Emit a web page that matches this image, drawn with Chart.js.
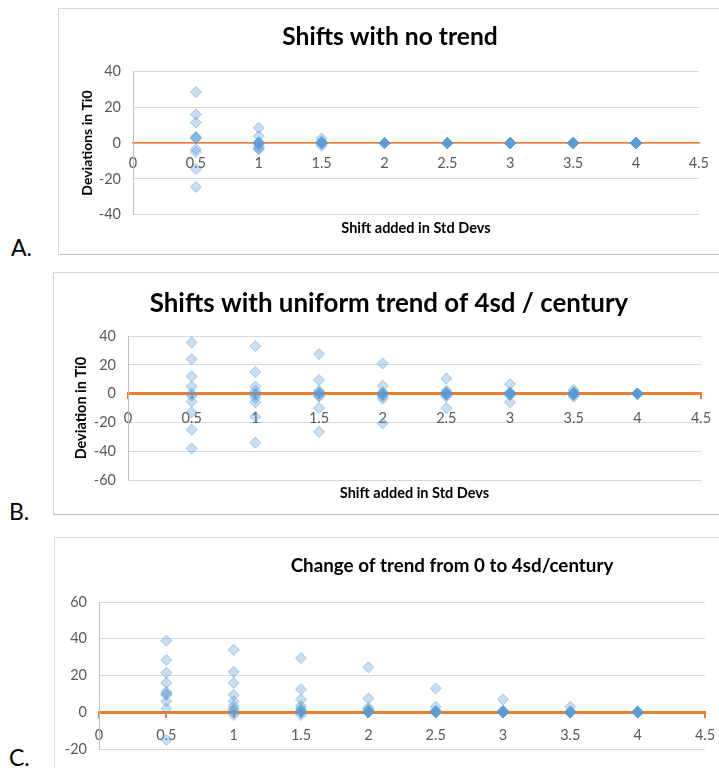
<!DOCTYPE html>
<html>
<head>
<meta charset="utf-8">
<script src="https://cdn.jsdelivr.net/npm/chart.js@4.4.1/dist/chart.umd.min.js"></script>
<style>
  html, body { margin: 0; padding: 0; background: #fff; }
  body { width: 719px; height: 768px; overflow: hidden; position: relative;
         font-family: Lato, 'Open Sans', sans-serif; }
  .box { position: absolute; border: 1px solid #D9D9D9; background: #fff; }
  .box canvas { position: absolute; left: 0; top: 0; }
  .lab { position: absolute; font-size: 23px; color: #000; }
</style>
</head>
<body>
<div class="lab" style="left:11px; top:233px;">A.</div>
<div class="lab" style="left:9px; top:497px;">B.</div>
<div class="lab" style="left:9px; top:743px;">C.</div>

<div class="box" style="left:58px; top:8px; width:662px; height:245px; border-bottom-color:#BFBFBF;"><canvas id="cA" width="662" height="245"></canvas></div>
<div class="box" style="left:53px; top:272px; width:670px; height:241px; border-bottom-color:#BFBFBF;"><canvas id="cB" width="670" height="241"></canvas></div>
<div class="box" style="left:54px; top:537px; width:794px; height:245px;"><canvas id="cC" width="794" height="245"></canvas></div>

<script>
// ---- data ----
const shifts = [0.5, 1, 1.5, 2, 2.5, 3, 3.5, 4];
const xTicksMin = 0, xTicksMax = 4.5, xTickStep = 0.5;

// Panel A: Shifts with no trend (10 runs per shift)
const devA_05 = [28.5, 16, 11.5, 3.5, 2.5, -3.5, -5, -14.5, -24.5, 3];
const devA_10 = [8.5, 4, 0.5, 0, 0, -0.5, -2, -3, -3.5, 0];
const devA_15 = [2.5, 1, 0.5, 0, 0, 0, -0.5, -1.5, 0, 0];
const devA_20 = [0, 0, 0, 0, 0, 0, 0, 0, 0, 0];
const devA_25 = [0, 0, 0, 0, 0, 0, 0, 0, 0, 0];
const devA_30 = [0, 0, 0, 0, 0, 0, 0, 0, 0, 0];
const devA_35 = [0, 0, 0, 0, 0, 0, 0, 0, 0, 0];
const devA_40 = [0, 0, 0, 0, 0, 0, 0, 0, 0, 0];

// Panel B: Shifts with uniform trend of 4sd / century
const devB_05 = [35.5, 24, 12, 5, 0, -1.5, -5.5, -13, -25, -38];
const devB_10 = [33, 15, 5, 2, 0, -1, -3, -6, -16, -34];
const devB_15 = [27.5, 9.5, 2, 1, 0, 0, -1.5, -2, -10, -26.5];
const devB_20 = [21, 5.5, 1, 0, 0, 0, -1, -2, -3.5, -20.5];
const devB_25 = [10.5, 2, 1, 0, 0, 0, 0, -1, -2, -10];
const devB_30 = [6.5, 1, 0.5, 0, 0, 0, 0, -0.5, -1, -6];
const devB_35 = [2.5, 1, 0.5, 0, 0, 0, 0, -0.5, -1, -2];
const devB_40 = [0, 0, 0, 0, 0, 0, 0, 0, 0, 0];

// Panel C: Change of trend from 0 to 4sd/century
const devC_05 = [39, 28.5, 21.5, 16, 11, 10, 9.5, 6, 2, -15];
const devC_10 = [34, 22, 16, 9.5, 6, 3.5, 2, 1, 0, -1.5];
const devC_15 = [29.5, 12.5, 7, 3.5, 2, 1, 0.5, 0, 0, -1.5];
const devC_20 = [24.5, 7.5, 2.5, 1.5, 1, 0.5, 0, 0, 0, 0];
const devC_25 = [13, 3, 1, 0.5, 0, 0, 0, 0, 0, 0];
const devC_30 = [7, 1, 0.5, 0, 0, 0, 0, 0, 0, 0];
const devC_35 = [3, 0.5, 0, 0, 0, 0, 0, 0, 0, 0];
const devC_40 = [0.5, 0, 0, 0, 0, 0, 0, 0, 0, 0];

const devA = [devA_05, devA_10, devA_15, devA_20, devA_25, devA_30, devA_35, devA_40];
const devB = [devB_05, devB_10, devB_15, devB_20, devB_25, devB_30, devB_35, devB_40];
const devC = [devC_05, devC_10, devC_15, devC_20, devC_25, devC_30, devC_35, devC_40];

const titleA = 'Shifts with no trend';
const titleB = 'Shifts with uniform trend of 4sd / century';
const titleC = 'Change of trend from 0 to 4sd/century';
const yTitleA = 'Deviations in Ti0';
const yTitleB = 'Deviation in Ti0';
const xTitle = 'Shift added in Std Devs';

// ---- rendering ----
const FONT = "Lato, 'Open Sans', sans-serif";
Chart.defaults.font.family = FONT;
const ORANGE = '#ED7D31';

function toPoints(dev) {
  const pts = [];
  shifts.forEach((s, i) => dev[i].forEach(v => pts.push({x: s, y: v})));
  return pts;
}

function makeChart(id, cfg) {
  const plugins = {
    legend: {display: false},
    tooltip: {enabled: false},
    title: {
      display: true, text: cfg.title, color: '#000',
      font: {size: cfg.titleSize, weight: 'bold', family: FONT},
      padding: cfg.titlePad
    }
  };
  if (cfg.xTitle) {
    plugins.subtitle = {
      display: true, position: 'bottom', fullSize: false, text: cfg.xTitle, color: '#000',
      font: {size: 14.5, weight: 'bold', family: FONT},
      padding: cfg.xTitlePad
    };
  }
  return new Chart(document.getElementById(id), {
    type: 'scatter',
    data: {
      datasets: [{
        data: toPoints(cfg.dev),
        pointStyle: 'rectRot',
        pointRadius: 5.5,
        pointBorderWidth: 1,
        backgroundColor: 'rgba(91,155,213,0.33)',
        borderColor: 'rgba(91,155,213,0.5)'
      }]
    },
    options: {
      responsive: false,
      animation: false,
      layout: {padding: cfg.layoutPad},
      plugins,
      scales: {
        x: {
          type: 'linear',
          position: {y: 0},
          min: xTicksMin, max: xTicksMax,
          ticks: {stepSize: xTickStep, color: '#595959', font: {size: 14.5}, padding: cfg.xTickPad,
                  maxRotation: 0, autoSkip: false, callback: v => String(v)},
          grid: {display: true, drawOnChartArea: false, drawTicks: cfg.xTickMarks, tickLength: 4, color: ORANGE, lineWidth: 2},
          border: {display: true, color: ORANGE, width: cfg.axisWidth}
        },
        y: {
          type: 'linear',
          min: cfg.yMin, max: cfg.yMax,
          afterFit: s => { s.width = cfg.yWidth; },
          ticks: {stepSize: 20, color: '#595959', font: {size: 14.5}, padding: 12, callback: v => String(v)},
          grid: {color: '#D9D9D9', drawTicks: false},
          border: {display: true, color: '#BFBFBF'},
          title: cfg.yTitle ? {display: true, text: cfg.yTitle, color: '#000',
                   font: {size: cfg.yTitleSize, weight: 'bold'}, padding: {top: cfg.yTitleOff, bottom: 0}} : {display: false}
        },
        // empty right-hand spacer so the plot ends where the reference's does
        ySpace: {
          type: 'linear', position: 'right', display: true,
          afterFit: s => { s.width = cfg.rightSpace; },
          ticks: {display: false}, grid: {display: false}, border: {display: false}
        }
      }
    }
  });
}

makeChart('cA', {
  title: titleA, titleSize: 24.6, titlePad: {top: 13, bottom: 20},
  xTitle: xTitle, xTitlePad: {top: 5.5, bottom: 16.5},
  dev: devA, yMin: -40, yMax: 40, yWidth: 74, yTitle: yTitleA, yTitleSize: 14, yTitleOff: 20,
  layoutPad: {left: 0, right: 0, top: 0, bottom: 0}, rightSpace: 21,
  xTickPad: 12, xTickMarks: false, axisWidth: 1.5
});
makeChart('cB', {
  title: titleB, titleSize: 25.9, titlePad: {top: 15, bottom: 17},
  xTitle: xTitle, xTitlePad: {top: 4.5, bottom: 12},
  dev: devB, yMin: -60, yMax: 40, yWidth: 74, yTitle: yTitleB, yTitleSize: 14.5, yTitleOff: 18.5,
  layoutPad: {left: 0, right: 0, top: 0, bottom: 0}, rightSpace: 23,
  xTickPad: 12, xTickMarks: true, axisWidth: 3
});
makeChart('cC', {
  title: titleC, titleSize: 18.8, titlePad: {top: 17, bottom: 24.5},
  xTitle: null,
  dev: devC, yMin: -20, yMax: 60, yWidth: 44, yTitle: null,
  layoutPad: {left: 0, right: 0, top: 0, bottom: 34}, rightSpace: 144,
  xTickPad: 10, xTickMarks: true, axisWidth: 3
});
</script>
</body>
</html>
